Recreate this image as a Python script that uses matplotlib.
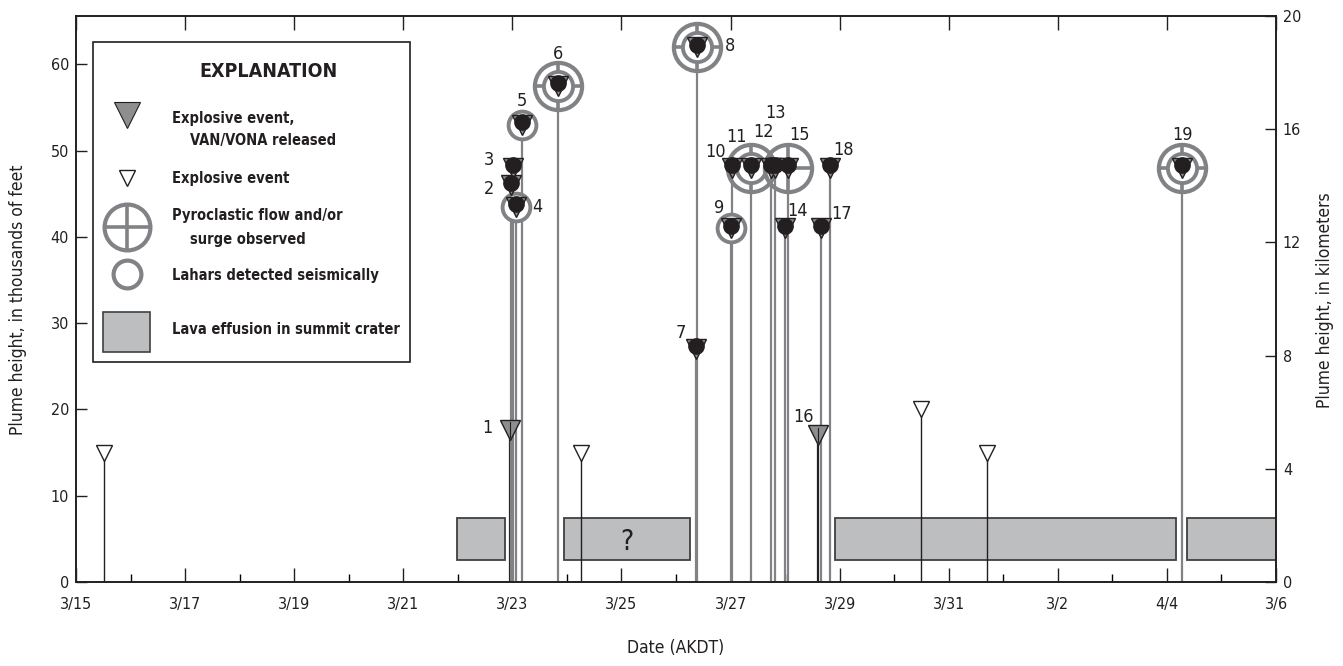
import matplotlib
matplotlib.use("Agg")
import matplotlib.pyplot as plt
from matplotlib import font_manager
from matplotlib.patches import Rectangle

# --- data -----------------------------------------------------------------
# time axis: days after 3/15 00:00 AKDT; heights in thousands of feet
day_ticks = [0, 2, 4, 6, 8, 10, 12, 14, 16, 18, 20, 22]
day_labels = ["3/15", "3/17", "3/19", "3/21", "3/23", "3/25", "3/27",
              "3/29", "3/31", "3/2", "4/4", "3/6"]

# numbered explosive events (VAN/VONA released)
ev_num = ["1", "2", "3", "4", "5", "6", "7", "8", "9", "10",
          "11", "12", "13", "14", "15", "16", "17", "18", "19"]
ev_day = [7.96, 7.98, 8.01, 8.07, 8.18, 8.83, 11.36, 11.39, 12.01, 12.03,
          12.37, 12.75, 12.82, 12.99, 13.05, 13.61, 13.66, 13.82, 20.28]
ev_kft = [17.6, 46, 48, 43.5, 53, 57.5, 27, 62, 41, 48,
          48, 48, 48, 41, 48, 17, 41, 48, 48]
ev_dot = [0, 1, 1, 1, 1, 1, 1, 1, 1, 1, 1, 1, 1, 1, 1, 0, 1, 1, 1]
ev_lahar = [0, 0, 0, 1, 1, 1, 0, 1, 1, 0, 1, 0, 0, 0, 0, 0, 0, 0, 1]
ev_pyro = [0, 0, 0, 0, 0, 1, 0, 1, 0, 0, 1, 0, 0, 0, 1, 0, 0, 0, 1]

# small explosive events (no VAN/VONA)
small_day = [0.51, 9.25, 15.49, 16.71]
small_kft = [15, 15, 20, 15]

# lava effusion in summit crater
lava_start = [6.98, 8.94, 13.91, 20.36]
lava_end = [7.87, 11.25, 20.17, 22.0]
lava_text = ["", "?", "", ""]
lava_bottom = 2.5
lava_top = 7.4

# --- style ----------------------------------------------------------------
names = {f.name for f in font_manager.fontManager.ttflist}
if "Liberation Sans Narrow" in names:
    plt.rcParams["font.family"] = ["Liberation Sans Narrow", "DejaVu Sans"]
else:
    plt.rcParams["font.family"] = ["DejaVu Sans"]
    plt.rcParams["font.stretch"] = "condensed"

DARK = "#231f20"
GRAY = "#808285"
TRI = "#8c8e90"
LAVA = "#bcbec0"
PX = 0.72  # points per pixel at 100 dpi

fig = plt.figure(figsize=(13.43, 6.66), dpi=100)
ax = fig.add_axes([0.0566, 0.1261, 0.8935, 0.850])
ymax = 20 / 0.3048
ax.set_xlim(0, 22)
ax.set_ylim(0, ymax)

# lava boxes
for s, e, t in zip(lava_start, lava_end, lava_text):
    ax.add_patch(Rectangle((s, lava_bottom), e - s, lava_top - lava_bottom,
                           facecolor=LAVA, edgecolor="#404041", lw=1.3, zorder=1))
    if t:
        ax.text((s + e) / 2, (lava_bottom + lava_top) / 2 - 0.3, t,
                ha="center", va="center", fontsize=20, color=DARK, zorder=2)

# stems
for d, h, dot in zip(ev_day, ev_kft, ev_dot):
    ax.plot([d, d], [0, h], color=GRAY if dot else DARK, lw=1.6,
            zorder=2, solid_capstyle="butt")
ax.vlines(small_day, 0, small_kft, color=DARK, lw=1.0, zorder=2)

# pyroclastic + lahar symbols
for d, h, la, py in zip(ev_day, ev_kft, ev_lahar, ev_pyro):
    if py:
        ax.plot(d, h, "o", ms=34, mfc="none", mec=GRAY, mew=3.0, zorder=3)
        ax.plot(d, h, "+", ms=34, mec=GRAY, mew=2.6, zorder=3)
        if la:
            ax.plot(d, h, "o", ms=21, mfc="white", mec=GRAY, mew=2.8, zorder=3)
    elif la:
        ax.plot(d, h, "o", ms=20, mfc="white", mec=GRAY, mew=2.8, zorder=3)

# triangles
for d, h, dot in zip(ev_day, ev_kft, ev_dot):
    ax.plot(d, h, "v", ms=15, mfc=TRI, mec=DARK, mew=1.0, zorder=4)
    if dot:
        ax.plot(d, h + 0.3, "o", ms=11, mfc=DARK, mec=DARK, zorder=5)
    else:
        ax.plot([d, d], [h - 0.8, h + 0.9], color=DARK, lw=0.8, zorder=5)
ax.plot(small_day, small_kft, "v", ms=11, mfc="white", mec=DARK, mew=1.0,
        ls="none", zorder=4)

# event numbers (offsets in pixels from the marker)
lab_off = {"1": (-23, 2), "2": (-22, -4), "3": (-24, 8), "4": (21, 0),
           "5": (0, 24), "6": (0, 32), "7": (-15, 16), "8": (33, 1),
           "9": (-12, 20), "10": (-17, 16), "11": (-14, 31), "12": (-8, 36),
           "13": (0, 55), "14": (13, 17), "15": (12, 33), "16": (-15, 18),
           "17": (20, 14), "18": (14, 18), "19": (0, 33)}
for n, d, h in zip(ev_num, ev_day, ev_kft):
    ox, oy = lab_off[n]
    ax.annotate(n, (d, h), xytext=(ox * PX, oy * PX), textcoords="offset points",
                ha="center", va="center", fontsize=13, color=DARK, zorder=6)

# axes, ticks
ax.set_xticks(day_ticks)
ax.set_xticklabels(day_labels)
ax.set_xticks(range(1, 22, 2), minor=True)
ax.set_yticks(range(0, 61, 10))
ax.tick_params(axis="x", which="major", direction="in", length=10, width=1,
               top=True, labelsize=11.5, pad=11, colors=DARK)
ax.tick_params(axis="x", which="minor", direction="in", length=6, width=1,
               top=False)
ax.tick_params(axis="y", direction="in", length=8, width=1, labelsize=11.5,
               pad=5, colors=DARK)
for sp in ax.spines.values():
    sp.set_color(DARK)
    sp.set_linewidth(1.2)

ax2 = ax.twinx()
ax2.set_ylim(0, 20)
ax2.set_yticks(range(0, 21, 4))
ax2.tick_params(axis="y", direction="in", length=8, width=1, labelsize=11.5,
                pad=5, colors=DARK)
for sp in ax2.spines.values():
    sp.set_color(DARK)
    sp.set_linewidth(1.2)

fig.text(18 / 1343, 1 - 300 / 666, "Plume height, in thousands of feet",
         rotation=90, ha="center", va="center", fontsize=12.5, color=DARK)
fig.text(1325 / 1343, 1 - 300 / 666, "Plume height, in kilometers",
         rotation=90, ha="center", va="center", fontsize=12.5, color=DARK)
fig.text(676 / 1343, 1 - 648 / 666, "Date (AKDT)",
         ha="center", va="center", fontsize=12.5, color=DARK)

# explanation box (pixel layout)
def fx(px):
    return (px - 76) / 1200


def fy(py):
    return (582 - py) / 566


T = ax.transAxes
ax.add_patch(Rectangle((fx(93), fy(362)), fx(410) - fx(93), fy(42) - fy(362),
                       transform=T, facecolor="white", edgecolor=DARK, lw=1.2,
                       zorder=7))
ax.text(fx(268), fy(72), "EXPLANATION", transform=T, ha="center", va="center",
        fontsize=14, fontweight="bold", color=DARK, zorder=8)
mx = fx(127)
ax.plot(mx, fy(115), "v", ms=19, mfc=TRI, mec=DARK, mew=0.8, transform=T, zorder=8)
ax.plot(mx, fy(178), "v", ms=11, mfc="white", mec=DARK, mew=1.0, transform=T, zorder=8)
ax.plot(mx, fy(227), "o", ms=33, mfc="none", mec=GRAY, mew=3.0, transform=T, zorder=8)
ax.plot(mx, fy(227), "+", ms=33, mec=GRAY, mew=2.6, transform=T, zorder=8)
ax.plot(mx, fy(274), "o", ms=20, mfc="none", mec=GRAY, mew=3.0, transform=T, zorder=8)
ax.add_patch(Rectangle((fx(103), fy(352)), fx(150) - fx(103), fy(312) - fy(352),
                       transform=T, facecolor=LAVA, edgecolor="#404041", lw=1.2,
                       zorder=8))
legend_rows = [(172, 119, "Explosive event,"), (190, 141, "VAN/VONA released"),
               (172, 179, "Explosive event"), (172, 216, "Pyroclastic flow and/or"),
               (190, 240, "surge observed"), (172, 276, "Lahars detected seismically"),
               (172, 330, "Lava effusion in summit crater")]
for lx, ly, s in legend_rows:
    ax.text(fx(lx), fy(ly), s, transform=T, ha="left", va="center",
            fontsize=10.5, fontweight="bold", color=DARK, zorder=8)

fig.savefig("out.png", dpi=100)
